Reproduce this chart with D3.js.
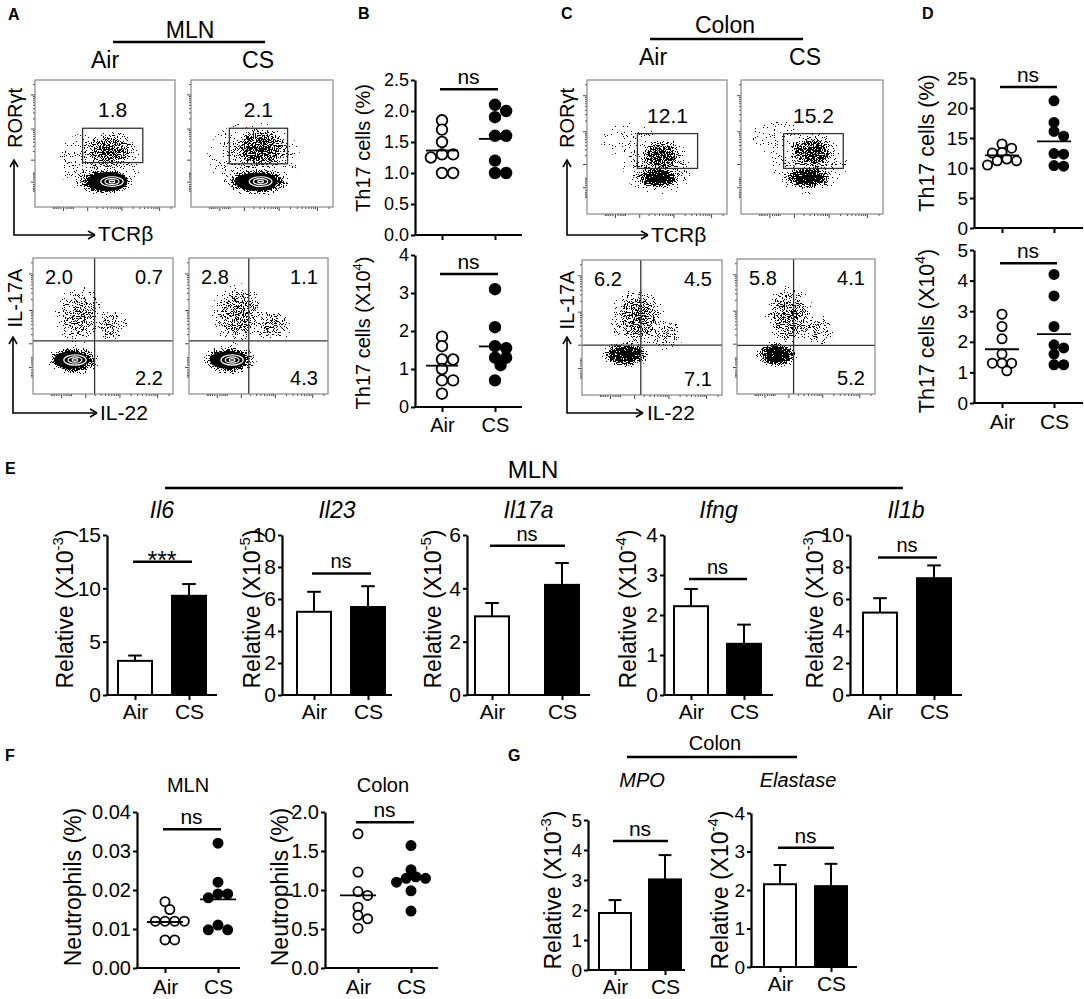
<!DOCTYPE html>
<html>
<head>
<meta charset="utf-8">
<script src="https://d3js.org/d3.v7.min.js"></script>
<style>
  body { margin: 0; background: #fff; }
  svg { display: block; font-family: "Liberation Sans", Arial, Helvetica, sans-serif; }
</style>
</head>
<body>
<div id="fig"></div>
<script>
const W = 1084, H = 999;

// ---------- data ----------
const groups = ["Air", "CS"];

// B: MLN Th17 cells
const mlnTh17PctAir = [1.85, 1.7, 1.5, 1.3, 1.25, 1.3, 1.0, 1.0];
const mlnTh17PctCS  = [2.1, 2.0, 1.9, 1.6, 1.6, 1.2, 1.0, 1.0];
const mlnTh17NumAir = [1.85, 1.6, 1.25, 1.25, 1.0, 0.7, 0.7, 0.35];
const mlnTh17NumCS  = [3.1, 2.1, 1.6, 1.55, 1.3, 1.3, 1.1, 0.7];
// D: colon Th17 cells
const colTh17PctAir = [14.0, 13.3, 12.6, 12.5, 11.5, 11.2, 11.2, 10.5];
const colTh17PctCS  = [21.2, 17.6, 16.1, 15.3, 12.4, 12.3, 10.4, 10.3];
const colTh17NumAir = [2.9, 2.5, 2.1, 1.6, 1.3, 1.3, 1.3, 1.05];
const colTh17NumCS  = [4.2, 3.5, 2.5, 1.9, 1.8, 1.6, 1.25, 1.25];
// F: neutrophils
const neutMlnAir = [0.017, 0.015, 0.012, 0.012, 0.012, 0.012, 0.0072, 0.0072];
const neutMlnCS  = [0.032, 0.022, 0.019, 0.019, 0.018, 0.011, 0.0098, 0.0098];
const neutColAir = [1.72, 1.23, 0.98, 0.93, 0.78, 0.675, 0.63, 0.51];
const neutColCS  = [1.57, 1.26, 1.17, 1.15, 1.15, 1.1, 0.99, 0.73];
const scatterSig  = ["ns", "ns", "ns", "ns", "ns", "ns"];
const scatterSigY = [2.35, 3.5, 23.5, 4.57, 0.0356, 1.87];

// E: MLN qPCR
const mlnGenes   = ["Il6", "Il23", "Il17a", "Ifng", "Il1b"];
const mlnExp     = ["-3", "-5", "-5", "-4", "-3"];
const mlnAirMean = [3.2, 5.2, 2.95, 2.22, 5.15];
const mlnCSMean  = [9.3, 5.5, 4.13, 1.28, 7.3];
const mlnAirSEM  = [0.5, 1.25, 0.5, 0.43, 0.9];
const mlnCSSEM   = [1.1, 1.3, 0.82, 0.48, 0.8];
const mlnYMax    = [15, 10, 6, 4, 10];
const mlnYStep   = [5, 2, 2, 1, 2];
const mlnSig     = ["***", "ns", "ns", "ns", "ns"];
const mlnSigY    = [12.5, 7.6, 5.6, 2.9, 8.6];

// G: colon qPCR
const colonGenes   = ["MPO", "Elastase"];
const colonExp     = ["-3", "-4"];
const colonAirMean = [1.9, 2.15];
const colonCSMean  = [3.02, 2.1];
const colonAirSEM  = [0.43, 0.5];
const colonCSSEM   = [0.81, 0.58];
const colonYMax    = [5, 4];
const colonYStep   = [1, 1];
const colonSig     = ["ns", "ns"];
const colonSigY    = [4.3, 3.1];

// A/C flow plots (display units 0-100): gate frequencies and populations
const gateLabels = ["1.8", "2.1", "12.1", "15.2"];
const gateRects  = [[34, 77, 35, 62], [27, 68, 34, 62], [36, 79, 34, 60], [30, 72, 34, 60]];
const gateClouds = [
  [[50, 20, 22, 11, 1], [53, 44, 21, 17, 0.62], [46, 36, 32, 26, 0.3]],
  [[47, 20, 25, 11, 1], [49, 46, 23, 19, 0.7], [44, 40, 34, 28, 0.3]],
  [[51, 27, 18, 9, 1], [53, 43, 17, 14, 0.74], [30, 55, 22, 14, 0.15], [51, 35, 26, 22, 0.35]],
  [[47, 27, 19, 9, 1], [50, 46, 19, 15, 0.74], [25, 58, 22, 14, 0.15], [48, 38, 28, 24, 0.35]]
];
const gateCores = [[52, 20, 14, 7.5], [46, 20, 15, 7], null, null];

const quadLabels = [["2.0", "0.7", "2.2"], ["2.8", "1.1", "4.3"], ["6.2", "4.5", "7.1"], ["5.8", "4.1", "5.2"]];
const quadCuts   = [[44, 39], [43, 39], [42, 37], [41, 36]];
const quadClouds = [
  [[29, 25, 19, 11, 1], [33, 58, 18, 22, 0.46], [55, 50, 14, 12, 0.4]],
  [[29, 25, 20, 11, 1], [35, 59, 19, 23, 0.52], [60, 51, 15, 13, 0.42]],
  [[31, 30, 18, 10, 1], [40, 57, 20, 23, 0.54], [60, 45, 13, 13, 0.36]],
  [[29, 29, 16, 10, 1], [38, 58, 18, 24, 0.54], [58, 48, 13, 13, 0.36]]
];
const quadCores = [[27, 25, 12, 6.5], [28, 25, 13, 6.5], null, null];

const flowMajor = [0, 1e3, 1e4, 1e5];
const flowMinor = [-250, -200, -150, -100, -50, 50, 100, 150, 200, 250]
  .concat(d3.range(2, 10).map(k => k * 1e3), d3.range(2, 10).map(k => k * 1e4), [2e5]);

// ---------- setup ----------
const svg = d3.select("#fig").append("svg")
    .attr("width", W)
    .attr("height", H);
svg.append("rect").attr("width", W).attr("height", H).attr("fill", "#fff");
const defs = svg.append("defs");

// stipple filter: noise thresholded by the local density (source alpha)
const flt = defs.append("filter").attr("id", "speck")
    .attr("color-interpolation-filters", "sRGB")
    .attr("x", "-10%").attr("y", "-10%").attr("width", "120%").attr("height", "120%");
flt.append("feTurbulence").attr("type", "fractalNoise").attr("baseFrequency", 0.9)
    .attr("numOctaves", 2).attr("seed", 5).attr("result", "n");
flt.append("feColorMatrix").attr("in", "n").attr("type", "matrix")
    .attr("values", "0 0 0 0 0  0 0 0 0 0  0 0 0 0 0  1 0 0 0 0").attr("result", "na");
flt.append("feComposite").attr("in", "na").attr("in2", "SourceAlpha").attr("operator", "arithmetic")
    .attr("k1", 0).attr("k2", 10).attr("k3", 5).attr("k4", -7).attr("result", "t");
flt.append("feComponentTransfer").attr("in", "t").attr("result", "d")
  .append("feFuncA").attr("type", "discrete").attr("tableValues", "0 1");
flt.append("feComponentTransfer").attr("in", "SourceAlpha").attr("result", "m")
  .append("feFuncA").attr("type", "linear").attr("slope", 30).attr("intercept", 0);
flt.append("feComposite").attr("in", "d").attr("in2", "m").attr("operator", "in");

const gradDone = {};
function grad(d) {
  const id = "rg" + Math.round(d * 100);
  if (!gradDone[id]) {
    gradDone[id] = true;
    const rg = defs.append("radialGradient").attr("id", id);
    rg.append("stop").attr("offset", "0%").attr("stop-color", "#000").attr("stop-opacity", d);
    rg.append("stop").attr("offset", "55%").attr("stop-color", "#000").attr("stop-opacity", d * 0.75);
    rg.append("stop").attr("offset", "100%").attr("stop-color", "#000").attr("stop-opacity", 0);
  }
  return id;
}

function txt(g, x, y, s, size, o = {}) {
  const t = g.append("text")
      .attr("x", x).attr("y", y)
      .attr("font-size", size)
      .attr("text-anchor", o.anchor || "middle")
      .attr("fill", "#000")
      .text(s);
  if (o.italic) t.attr("font-style", "italic");
  if (o.bold) t.attr("font-weight", "bold");
  return t;
}

function vLabel(g, x, y, parts, size) {
  const t = g.append("text")
      .attr("transform", `translate(${x},${y}) rotate(-90)`)
      .attr("text-anchor", "middle")
      .attr("font-size", size);
  t.append("tspan").text(parts[0]);
  if (parts.length > 1) {
    t.append("tspan").attr("font-size", size * 0.65).attr("dy", -size * 0.42).text(parts[1]);
    t.append("tspan").attr("dy", size * 0.42).text(parts[2]);
  }
}

function hline(g, x1, x2, y, w) {
  g.append("line").attr("x1", x1).attr("x2", x2).attr("y1", y).attr("y2", y)
      .attr("stroke", "#000").attr("stroke-width", w || 2.5);
}

// ---------- axes for scatter / bar plots ----------
function yAxis(g, y, L) {
  const a = g.append("g")
      .attr("transform", `translate(${L.x0},0)`)
      .call(d3.axisLeft(y)
        .tickValues(d3.range(0, L.max + L.step / 2, L.step))
        .tickFormat(d3.format(L.fmt))
        .tickSize(4).tickPadding(2).tickSizeOuter(0));
  a.select(".domain").attr("stroke-width", 2.2);
  a.selectAll(".tick line").attr("stroke-width", 2);
  a.selectAll("text").attr("font-size", L.tick).attr("font-family", null).attr("fill", "#000");
}

function xAxis(g, x, L, showLabels) {
  g.append("line").attr("x1", L.x0 - 1).attr("x2", L.xEnd).attr("y1", L.y0).attr("y2", L.y0)
      .attr("stroke", "#000").attr("stroke-width", 2.2);
  const a = g.append("g")
      .attr("transform", `translate(0,${L.y0})`)
      .call(d3.axisBottom(x).tickSize(5).tickPadding(L.xpad || 5).tickSizeOuter(0));
  a.select(".domain").remove();
  a.selectAll(".tick line").attr("stroke-width", 2);
  if (showLabels) a.selectAll("text").attr("font-size", L.xsize || 21).attr("font-family", null).attr("fill", "#000");
  else a.selectAll("text").remove();
}

function sigBar(g, x, y, s, v, size) {
  const yy = y(v);
  hline(g, x("Air") - 2, x("CS") + 3, yy, 2.5);
  const star = s.indexOf("*") >= 0;
  txt(g, (x("Air") + x("CS")) / 2, star ? yy + 7 : yy - 5, s, star ? size + 5 : size);
}

function swarm(vals, y, r, cx) {
  const pts = vals.map(v => ({ y: y(v) })).sort((a, b) => a.y - b.y);
  const placed = [];
  const minD = 2 * r * 0.85;
  pts.forEach(p => {
    for (let k = 0; k < 14; k++) {
      const off = (k % 2 ? 1 : -1) * Math.ceil(k / 2) * r * 1.05;
      const px = cx + off;
      if (placed.every(q => Math.hypot(q.x - px, q.y - p.y) >= minD)) { p.x = px; break; }
    }
    if (p.x === undefined) p.x = cx;
    placed.push(p);
  });
  return pts;
}

function dotPlot(L, airVals, csVals, sig, sigY, showX) {
  const g = svg.append("g");
  const y = d3.scaleLinear().domain([0, L.max]).range([L.y0, L.yTop]);
  const x = d3.scalePoint().domain(groups).range(L.cx);
  yAxis(g, y, L);
  xAxis(g, x, L, showX);
  [airVals, csVals].forEach((vals, gi) => {
    const cx = x(groups[gi]);
    g.append("g").selectAll("circle")
      .data(swarm(vals, y, L.r, cx))
      .join("circle")
        .attr("cx", d => d.x)
        .attr("cy", d => d.y)
        .attr("r", L.r)
        .attr("fill", gi ? "#000" : "#fff")
        .attr("stroke", "#000")
        .attr("stroke-width", 1.8);
    const m = d3.mean(vals);
    hline(g, cx - L.mw, cx + L.mw, y(m), 1.8);
  });
  sigBar(g, x, y, sig, sigY, L.sigSize || 21);
  vLabel(g, L.ylx, L.lyc, L.label, L.lsize);
}

function barPlot(L, means, sems, max, step, sig, sigY, title, exp) {
  const g = svg.append("g");
  const y = d3.scaleLinear().domain([0, max]).range([L.y0, L.yTop]);
  const x = d3.scalePoint().domain(groups).range(L.cx);
  const bw = L.bw;
  g.append("g").selectAll("rect")
    .data(groups)
    .join("rect")
      .attr("x", d => x(d) - bw / 2)
      .attr("y", (d, i) => y(means[i]))
      .attr("width", bw)
      .attr("height", (d, i) => y(0) - y(means[i]))
      .attr("fill", (d, i) => i ? "#000" : "#fff")
      .attr("stroke", "#000")
      .attr("stroke-width", 2);
  groups.forEach((d, i) => {
    g.append("line").attr("x1", x(d)).attr("x2", x(d))
        .attr("y1", y(means[i])).attr("y2", y(means[i] + sems[i]))
        .attr("stroke", "#000").attr("stroke-width", 2);
    hline(g, x(d) - bw * 0.2, x(d) + bw * 0.2, y(means[i] + sems[i]), 2);
  });
  yAxis(g, y, Object.assign({ max: max, step: step, fmt: "d" }, L));
  xAxis(g, x, L, true);
  sigBar(g, x, y, sig, sigY, L.sigSize || 21);
  vLabel(g, L.ylx, L.lyc, ["Relative (X10", exp, ")"], L.lsize);
  txt(g, L.tx, L.ty, title, L.tsize, { italic: true });
}

// ---------- flow plots ----------
let clipN = 0;
function flowFrame(box) {
  const g = svg.append("g");
  const px = d3.scaleLinear().domain([0, 100]).range([box.x0, box.x1]);
  const py = d3.scaleLinear().domain([0, 100]).range([box.y1, box.y0]);
  const sx = d3.scaleSymlog().constant(300).domain([-1325, 2.62e5]).range([box.x0, box.x1]);
  const sy = d3.scaleSymlog().constant(300).domain([-1325, 2.62e5]).range([box.y1, box.y0]);
  const id = "clip" + (clipN++);
  defs.append("clipPath").attr("id", id).append("rect")
      .attr("x", box.x0).attr("y", box.y0)
      .attr("width", box.x1 - box.x0).attr("height", box.y1 - box.y0);
  const inner = g.append("g").attr("clip-path", `url(#${id})`);
  // ticks
  [[flowMajor, 4], [flowMinor, 2]].forEach(([vals, len]) => {
    const ay = g.append("g").attr("transform", `translate(${box.x0},0)`)
        .call(d3.axisLeft(sy).tickValues(vals).tickFormat("").tickSize(len).tickSizeOuter(0));
    const ax = g.append("g").attr("transform", `translate(0,${box.y1})`)
        .call(d3.axisBottom(sx).tickValues(vals).tickFormat("").tickSize(len).tickSizeOuter(0));
    [ay, ax].forEach(a => {
      a.select(".domain").remove();
      a.selectAll(".tick line").attr("stroke", "#444").attr("stroke-width", 1);
    });
  });
  return { g, inner, px, py };
}

function drawPops(f, clouds, core) {
  const { inner, px, py } = f;
  clouds.forEach(p => {
    inner.append("ellipse")
        .attr("cx", px(p[0])).attr("cy", py(p[1]))
        .attr("rx", px(p[2]) - px(0)).attr("ry", py(0) - py(p[3]))
        .attr("fill", `url(#${grad(p[4])})`)
        .attr("filter", "url(#speck)");
  });
  if (core) {
    inner.append("ellipse")
        .attr("cx", px(core[0])).attr("cy", py(core[1]))
        .attr("rx", px(core[2]) - px(0)).attr("ry", py(0) - py(core[3]))
        .attr("fill", "#000");
    [[8, 3.8], [5, 2.3], [2, 1]].forEach(rr => {
      inner.append("ellipse")
          .attr("cx", px(core[0] + 3)).attr("cy", py(core[1]))
          .attr("rx", px(rr[0]) - px(0)).attr("ry", py(0) - py(rr[1]))
          .attr("fill", "none").attr("stroke", "#fff").attr("stroke-width", 1.2);
    });
  }
}

function boxBorder(f, box) {
  f.g.append("rect")
      .attr("x", box.x0).attr("y", box.y0)
      .attr("width", box.x1 - box.x0).attr("height", box.y1 - box.y0)
      .attr("fill", "none").attr("stroke", "#888").attr("stroke-width", 1.2);
}

function gatePlot(box, i) {
  const f = flowFrame(box);
  drawPops(f, gateClouds[i], gateCores[i]);
  const r = gateRects[i];
  f.g.append("rect")
      .attr("x", f.px(r[0])).attr("y", f.py(r[3]))
      .attr("width", f.px(r[1]) - f.px(r[0])).attr("height", f.py(r[2]) - f.py(r[3]))
      .attr("fill", "none").attr("stroke", "#333").attr("stroke-width", 1.3);
  boxBorder(f, box);
  txt(f.g, f.px((r[0] + r[1]) / 2), f.py(r[3]) - 11, gateLabels[i], 21);
}

function quadPlot(box, i) {
  const f = flowFrame(box);
  drawPops(f, quadClouds[i], quadCores[i]);
  const c = quadCuts[i];
  f.g.append("line").attr("x1", f.px(c[0])).attr("x2", f.px(c[0])).attr("y1", box.y0).attr("y2", box.y1)
      .attr("stroke", "#333").attr("stroke-width", 1.3);
  f.g.append("line").attr("x1", box.x0).attr("x2", box.x1).attr("y1", f.py(c[1])).attr("y2", f.py(c[1]))
      .attr("stroke", "#333").attr("stroke-width", 1.3);
  boxBorder(f, box);
  const q = quadLabels[i];
  txt(f.g, box.x0 + 26, box.y0 + 26, q[0], 20);
  txt(f.g, box.x1 - 24, box.y0 + 26, q[1], 20);
  txt(f.g, box.x1 - 24, box.y1 - 9, q[2], 20);
}

function flowArrows(x, yTop, yCorner, xRight) {
  const g = svg.append("g").attr("fill", "none").attr("stroke", "#000").attr("stroke-width", 1.6);
  g.append("path").attr("d", `M${x},${yTop}V${yCorner}H${xRight}`);
  g.append("path").attr("d", `M${x - 4},${yTop + 7}L${x},${yTop}L${x + 4},${yTop + 7}`);
  g.append("path").attr("d", `M${xRight - 7},${yCorner - 4}L${xRight},${yCorner}M${xRight - 7},${yCorner + 4}L${xRight},${yCorner}`);
}

// ---------- panel letters and headers ----------
const lab = svg.append("g");
[["A", 8, 20], ["B", 358, 19], ["C", 561, 19], ["D", 922, 19], ["E", 5, 474], ["F", 5, 761], ["G", 508, 761]]
  .forEach(d => txt(lab, d[1], d[2], d[0], 16, { anchor: "start", bold: true }));

txt(lab, 190, 38, "MLN", 23);
hline(lab, 113, 265, 42, 2.5);
txt(lab, 105, 68, "Air", 23);
txt(lab, 258, 68, "CS", 23);

txt(lab, 725, 33, "Colon", 23);
hline(lab, 650, 803, 39, 2.5);
txt(lab, 653, 65, "Air", 23);
txt(lab, 805, 65, "CS", 23);

txt(lab, 533, 478, "MLN", 24);
hline(lab, 165, 903, 488, 2.5);

txt(lab, 188, 792, "MLN", 20);
txt(lab, 383, 792, "Colon", 20);

txt(lab, 715, 750, "Colon", 20);
hline(lab, 627, 797, 757, 2.5);

// ---------- A and C: flow cytometry ----------
const gateBoxes = [
  { x0: 35, x1: 175, y0: 80, y1: 207 },
  { x0: 191, x1: 333, y0: 80, y1: 207 },
  { x0: 587, x1: 727, y0: 80, y1: 214 },
  { x0: 741, x1: 883, y0: 80, y1: 214 }
];
const quadBoxes = [
  { x0: 33, x1: 173, y0: 258, y1: 394 },
  { x0: 189, x1: 328, y0: 258, y1: 394 },
  { x0: 582, x1: 722, y0: 260, y1: 395 },
  { x0: 737, x1: 875, y0: 259, y1: 394 }
];
gateBoxes.forEach((b, i) => gatePlot(b, i));
quadBoxes.forEach((b, i) => quadPlot(b, i));

flowArrows(14, 160, 235, 95);
vLabel(lab, 22, 118, ["RORγt"], 20);
txt(lab, 98, 241, "TCRβ", 21, { anchor: "start" });
flowArrows(13, 337, 413, 97);
vLabel(lab, 22, 298, ["IL-17A"], 20);
txt(lab, 100, 420, "IL-22", 21, { anchor: "start" });

flowArrows(567, 160, 235, 648);
vLabel(lab, 574, 118, ["RORγt"], 20);
txt(lab, 651, 242, "TCRβ", 21, { anchor: "start" });
flowArrows(567, 337, 413, 643);
vLabel(lab, 574, 300, ["IL-17A"], 20);
txt(lab, 647, 420, "IL-22", 21, { anchor: "start" });

// ---------- B, D, F: dot plots ----------
const pctLabel = ["Th17 cells (%)"];
const numLabel = ["Th17 cells (X10", "4", ")"];
dotPlot({ x0: 415, xEnd: 522, cx: [442, 495], y0: 235, yTop: 80, max: 2.5, step: 0.5, fmt: ".1f",
          r: 5.3, mw: 16, tick: 18, ylx: 370, lyc: 148, label: pctLabel, lsize: 20 },
        mlnTh17PctAir, mlnTh17PctCS, scatterSig[0], scatterSigY[0], false);
dotPlot({ x0: 415, xEnd: 522, cx: [442, 495], y0: 407, yTop: 255, max: 4, step: 1, fmt: "d",
          r: 5.3, mw: 16, tick: 18, ylx: 370, lyc: 333, label: numLabel, lsize: 20, xpad: 6, xsize: 20 },
        mlnTh17NumAir, mlnTh17NumCS, scatterSig[1], scatterSigY[1], true);
dotPlot({ x0: 974, xEnd: 1083, cx: [1002, 1054], y0: 228, yTop: 78, max: 25, step: 5, fmt: "d",
          r: 4.6, mw: 17, tick: 19, ylx: 934, lyc: 143, label: pctLabel, lsize: 21.5 },
        colTh17PctAir, colTh17PctCS, scatterSig[2], scatterSigY[2], false);
dotPlot({ x0: 974, xEnd: 1083, cx: [1002, 1054], y0: 403, yTop: 250, max: 5, step: 1, fmt: "d",
          r: 4.6, mw: 17, tick: 19, ylx: 934, lyc: 331, label: numLabel, lsize: 21.5, xpad: 6, xsize: 21 },
        colTh17NumAir, colTh17NumCS, scatterSig[3], scatterSigY[3], true);
dotPlot({ x0: 137, xEnd: 240, cx: [165, 218], y0: 968, yTop: 812, max: 0.04, step: 0.01, fmt: ".2f",
          r: 4.6, mw: 18, tick: 20, ylx: 81, lyc: 887, label: ["Neutrophils (%)"], lsize: 23, xpad: 6 },
        neutMlnAir, neutMlnCS, scatterSig[4], scatterSigY[4], true);
dotPlot({ x0: 325, xEnd: 438, cx: [358, 411], y0: 968, yTop: 812, max: 2, step: 0.5, fmt: ".1f",
          r: 4.6, mw: 18, tick: 20, ylx: 288, lyc: 887, label: ["Neutrophils (%)"], lsize: 23, xpad: 6 },
        neutColAir, neutColCS, scatterSig[5], scatterSigY[5], true);

// ---------- E: MLN bars ----------
const eLayout = [
  { x0: 107, xEnd: 217, cx: [135, 189], ylx: 73 },
  { x0: 282, xEnd: 392, cx: [314, 368], ylx: 260 },
  { x0: 467, xEnd: 590, cx: [492, 562], ylx: 441 },
  { x0: 664, xEnd: 773, cx: [691, 744], ylx: 636 },
  { x0: 850, xEnd: 962, cx: [880, 934], ylx: 823 }
];
mlnGenes.forEach((gene, i) => {
  const L = Object.assign({ y0: 695, yTop: 535, bw: 34, tick: 21, lyc: 609, lsize: 23, xpad: 4,
                            tx: (eLayout[i].x0 + eLayout[i].xEnd) / 2, ty: 518, tsize: 23, sigSize: 20 }, eLayout[i]);
  barPlot(L, [mlnAirMean[i], mlnCSMean[i]], [mlnAirSEM[i], mlnCSSEM[i]], mlnYMax[i], mlnYStep[i],
          mlnSig[i], mlnSigY[i], gene, mlnExp[i]);
});

// ---------- G: colon bars ----------
const gLayout = [
  { x0: 588, xEnd: 685, cx: [615, 665], y0: 970, yTop: 820, ylx: 561, tx: 642 },
  { x0: 751, xEnd: 857, cx: [780, 831], y0: 967, yTop: 813, ylx: 728, tx: 798 }
];
colonGenes.forEach((gene, i) => {
  const L = Object.assign({ bw: 32, tick: 19, lyc: 890, lsize: 23, xpad: 4, ty: 787, tsize: 20 }, gLayout[i]);
  barPlot(L, [colonAirMean[i], colonCSMean[i]], [colonAirSEM[i], colonCSSEM[i]], colonYMax[i], colonYStep[i],
          colonSig[i], colonSigY[i], gene, colonExp[i]);
});
</script>
</body>
</html>
